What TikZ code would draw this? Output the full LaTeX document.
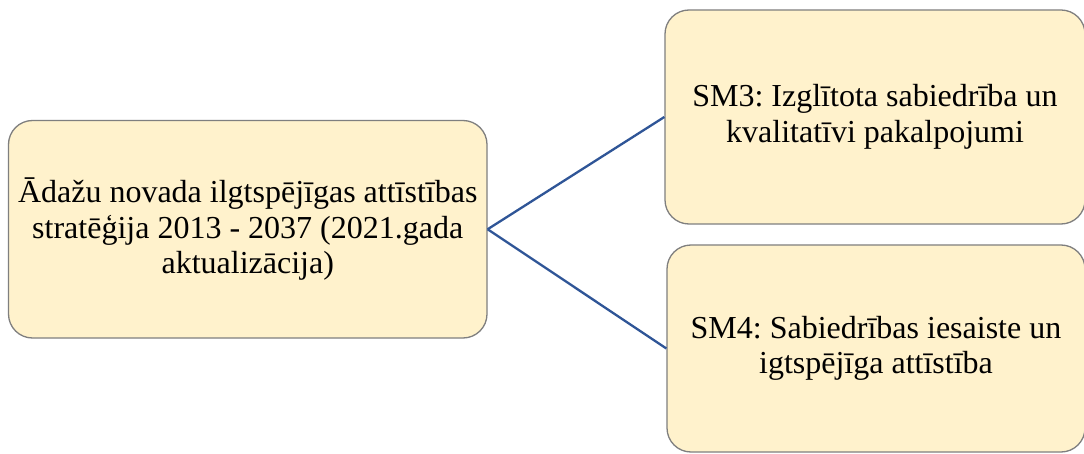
\documentclass[tikz,border=0pt]{standalone}
\usepackage{fontspec}
\setmainfont{Liberation Serif}
\definecolor{boxfill}{HTML}{FFF2CC}
\definecolor{boxline}{HTML}{7F7F7F}
\definecolor{linkblue}{HTML}{2F5597}
\frenchspacing
\begin{document}
\begin{tikzpicture}[x=1pt,y=-1pt,
  box/.style={draw=boxline, fill=boxfill, line width=1.3pt, rounded corners=24pt,
    align=center, inner sep=0pt, font=\fontsize{32}{35.5}\selectfont},
  link/.style={draw=linkblue, line width=2.3pt}]
\useasboundingbox (0,0) rectangle (1084,454);
\fill[white] (0,0) rectangle (1084,454);
\node[box, minimum width=478.5pt, minimum height=217.5pt] (L) at (247.75,229.25)
  {\raisebox{-4pt}{\parbox{478pt}{\centering Ādažu novada ilgtspējīgas attīstības\\stratēģija 2013 - 2037 (2021.gada\\aktualizācija)}}};
\node[box, minimum width=420pt, minimum height=214pt] (T) at (875,117)
  {\raisebox{-3pt}{\parbox{420pt}{\centering SM3: Izglītota sabiedrība un\\kvalitatīvi pakalpojumi}}};
\node[box, minimum width=418pt, minimum height=207pt] (B) at (876,348.5)
  {\raisebox{-4pt}{\parbox{418pt}{\centering SM4: Sabiedrības iesaiste un\\igtspējīga attīstība}}};
\draw[link] (L.east) -- (T.west);
\draw[link] (L.east) -- (B.west);
\end{tikzpicture}
\end{document}
